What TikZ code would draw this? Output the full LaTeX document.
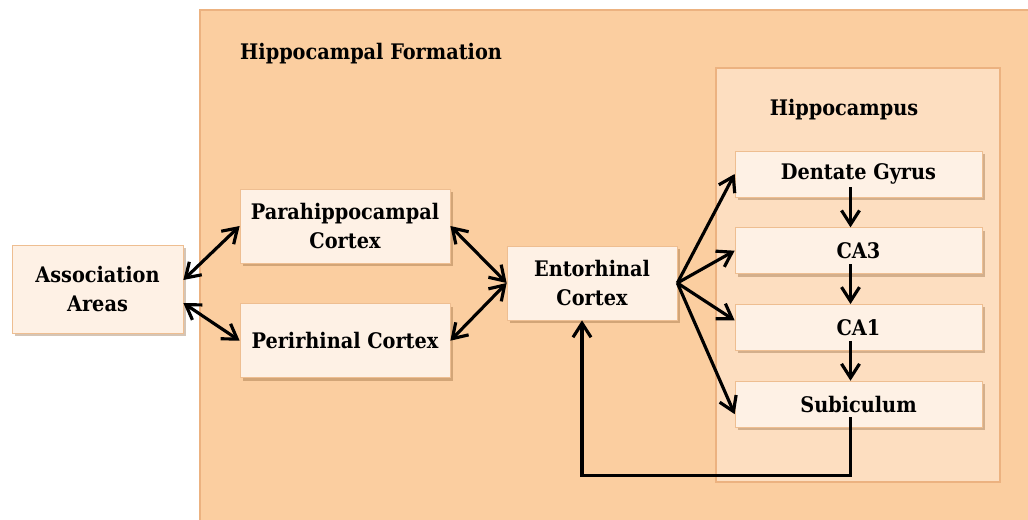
\documentclass[tikz,border=0pt]{standalone}
\usepackage{fontspec}
\setmainfont{DejaVu Serif Condensed}
\usetikzlibrary{arrows.meta,positioning,shadows}
\definecolor{formfill}{RGB}{251,206,160}
\definecolor{formdraw}{RGB}{236,178,128}
\definecolor{hippofill}{RGB}{253,222,192}
\definecolor{boxfill}{RGB}{254,241,229}
\definecolor{boxdraw}{RGB}{238,190,145}

\begin{document}
\begin{tikzpicture}[
    font=\bfseries\fontsize{12.2}{17}\selectfont,
    node distance=6mm and 10mm,
    region/.style={draw=formdraw, line width=0.8pt},
    box/.style={draw=boxdraw, fill=boxfill, align=center, inner sep=0pt, drop shadow={shadow xshift=0.5mm, shadow yshift=-0.6mm, fill=brown!70!black, opacity=0.35}},
    cell/.style={box, minimum width=4.94cm, minimum height=0.92cm},
    arrow/.style={-{Straight Barb[length=2.8mm, width=3.6mm]}, line width=1.8pt},
    dblarrow/.style={{Straight Barb[length=2.8mm, width=3.6mm]}-{Straight Barb[length=2.8mm, width=3.6mm]}, line width=1.8pt},
    down/.style={arrow, shorten <=-2mm}
]
\useasboundingbox (0,0) rectangle (20.56,-10.4);
% regions
\draw[region, fill=formfill] (4.0,-0.2) rectangle (21,-11);
\node[anchor=west] (formation) at (4.68,-1.08) {Hippocampal Formation};
\draw[region, fill=hippofill] (14.32,-1.36) rectangle (20.0,-9.64);
\node (hippocampus) at (16.88,-2.2) {Hippocampus};

% cortex side
\node[box, minimum width=3.42cm, minimum height=1.76cm] (assoc) at (1.95,-5.78) {Association\\Areas};
\node[box, minimum width=4.2cm, minimum height=1.48cm] (para) at (6.9,-4.52) {Parahippocampal\\Cortex};
\node[box, minimum width=4.2cm, minimum height=1.48cm, below=0.8cm of para] (peri) {Perirhinal Cortex};
\node[box, minimum width=3.4cm, minimum height=1.48cm] (ent) at (11.84,-5.66) {Entorhinal\\Cortex};

% hippocampus
\node[cell] (dg) at (17.17,-3.48) {Dentate Gyrus};
\node[cell, below=of dg] (ca3) {CA3};
\node[cell, below=of ca3] (ca1) {CA1};
\node[cell, below=of ca1] (sub) {Subiculum};

\draw[dblarrow] ([yshift=1.8mm]assoc.east) -- (para.west);
\draw[dblarrow] ([yshift=-2.8mm]assoc.east) -- (peri.west);
\draw[dblarrow] (para.east) -- (ent.west);
\draw[dblarrow] (peri.east) -- (ent.west);

\draw[arrow] (ent.east) -- (dg.west);
\draw[arrow] (ent.east) -- (ca3.west);
\draw[arrow] (ent.east) -- ([yshift=1.4mm]ca1.west);
\draw[arrow] (ent.east) -- ([yshift=-2mm]sub.west);

\draw[down] ([xshift=-1.6mm]dg.south) -- ([xshift=-1.6mm]ca3.north);
\draw[down] ([xshift=-1.6mm]ca3.south) -- ([xshift=-1.6mm]ca1.north);
\draw[down] ([xshift=-1.6mm]ca1.south) -- ([xshift=-1.6mm]sub.north);
\draw[down] ([xshift=-1.6mm]sub.south) -- ++(0,-0.96) -| ([xshift=-2mm]ent.south);
\end{tikzpicture}
\end{document}
